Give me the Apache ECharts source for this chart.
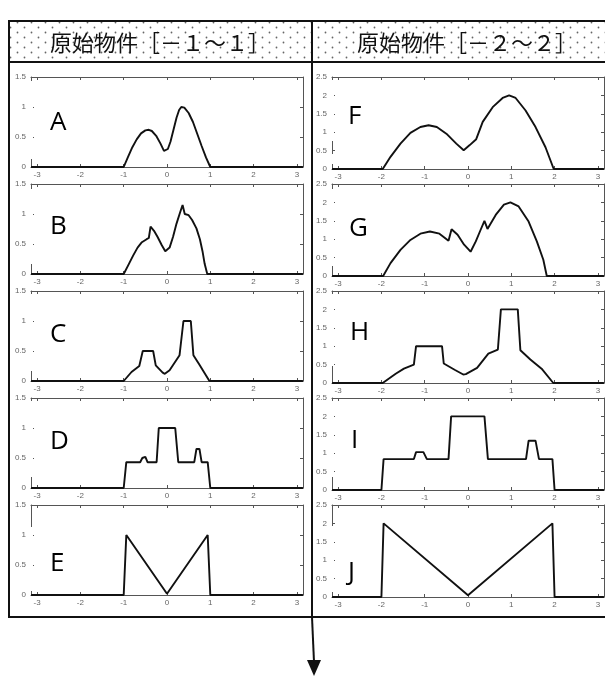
<!DOCTYPE html>
<html>
<head>
<meta charset="utf-8">
<script src="https://cdn.jsdelivr.net/npm/echarts@6/dist/echarts.min.js"></script>
<style>
  html, body { margin: 0; padding: 0; background: #fff; }
  #chart { width: 605px; height: 684px; }
</style>
</head>
<body>
<div id="chart"></div>
<script>
// Tick values shared by every panel
const xTicks = [-3, -2, -1, 0, 1, 2, 3];
const xMin = -Math.PI;
const xMax = Math.PI;
const yMaxNarrow = 1.5;   // objects on [-1, 1]
const yMaxWide = 2.5;     // objects on [-2, 2]

// Column headings
const headingNarrow = '原始物件［－１～１］';
const headingWide = '原始物件［－２～２］';

// Panel letters
const lettersNarrow = ['A', 'B', 'C', 'D', 'E'];
const lettersWide = ['F', 'G', 'H', 'I', 'J'];

// Original objects supported on [-1, 1]
const curveA = [[-3.14,0],[-1,0],[-0.9,0.17],[-0.8,0.33],[-0.7,0.46],[-0.6,0.56],[-0.5,0.61],[-0.42,0.62],[-0.35,0.6],[-0.25,0.52],[-0.15,0.39],[-0.07,0.27],[-0.03,0.26],[0.02,0.3],[0.08,0.42],[0.15,0.62],[0.22,0.82],[0.28,0.95],[0.33,1.0],[0.4,0.99],[0.5,0.9],[0.6,0.75],[0.7,0.55],[0.8,0.35],[0.9,0.16],[1,0],[3.14,0]];
const curveB = [[-3.14,0],[-1,0],[-0.9,0.14],[-0.78,0.31],[-0.68,0.44],[-0.58,0.53],[-0.47,0.58],[-0.42,0.6],[-0.38,0.79],[-0.3,0.72],[-0.22,0.62],[-0.12,0.48],[-0.04,0.38],[0,0.35],[0.06,0.44],[0.14,0.62],[0.22,0.84],[0.3,1.02],[0.36,1.15],[0.41,1.0],[0.5,0.98],[0.58,0.9],[0.68,0.76],[0.76,0.58],[0.82,0.38],[0.87,0.17],[0.93,0],[3.14,0]];
const curveC = [[-3.14,0],[-1,0],[-0.82,0.15],[-0.64,0.25],[-0.56,0.5],[-0.32,0.5],[-0.26,0.26],[-0.1,0.14],[-0.05,0.12],[0.06,0.18],[0.29,0.43],[0.38,1],[0.55,1],[0.61,0.43],[0.75,0.27],[0.98,0],[3.14,0]];
const curveD = [[-3.14,0],[-1,0],[-0.94,0.43],[-0.62,0.43],[-0.57,0.5],[-0.5,0.52],[-0.45,0.43],[-0.24,0.43],[-0.19,1],[0.19,1],[0.26,0.43],[0.63,0.43],[0.68,0.65],[0.75,0.65],[0.8,0.43],[0.94,0.43],[1,0],[3.14,0]];
const curveE = [[-3.14,0],[-1,0],[-0.94,1],[0,0.02],[0.94,1],[1,0],[3.14,0]];

// Original objects supported on [-2, 2]
const curveF = [[-3.14,0],[-1.97,0],[-1.79,0.33],[-1.56,0.69],[-1.33,0.98],[-1.1,1.14],[-0.91,1.19],[-0.72,1.14],[-0.5,0.96],[-0.27,0.69],[-0.1,0.51],[0.04,0.65],[0.19,0.81],[0.34,1.28],[0.57,1.68],[0.8,1.93],[0.95,2],[1.1,1.93],[1.33,1.59],[1.56,1.14],[1.79,0.59],[1.98,0],[3.14,0]];
const curveG = [[-3.14,0],[-1.96,0],[-1.79,0.35],[-1.56,0.71],[-1.33,0.98],[-1.1,1.15],[-0.88,1.21],[-0.66,1.15],[-0.45,0.96],[-0.38,1.27],[-0.24,1.12],[-0.09,0.85],[0.06,0.66],[0.18,0.94],[0.29,1.25],[0.38,1.5],[0.45,1.28],[0.64,1.66],[0.83,1.94],[0.98,2],[1.17,1.89],[1.4,1.48],[1.59,0.94],[1.74,0.44],[1.82,0],[3.14,0]];
const curveH = [[-3.14,0],[-1.97,0],[-1.67,0.25],[-1.48,0.39],[-1.25,0.5],[-1.2,1],[-0.6,1],[-0.56,0.53],[-0.31,0.36],[-0.11,0.23],[-0.05,0.24],[0.21,0.41],[0.47,0.8],[0.69,0.91],[0.76,2],[1.15,2],[1.21,0.89],[1.44,0.64],[1.7,0.39],[1.97,0],[3.14,0]];
const curveI = [[-3.14,0],[-2,0],[-1.95,0.84],[-1.25,0.84],[-1.2,1.03],[-1.03,1.03],[-0.95,0.84],[-0.45,0.84],[-0.39,2],[0.38,2],[0.46,0.84],[1.34,0.84],[1.4,1.34],[1.56,1.34],[1.64,0.84],[1.95,0.84],[2,0],[3.14,0]];
const curveJ = [[-3.14,0],[-2,0],[-1.95,2],[0,0.05],[1.95,2],[2,0],[3.14,0]];

const curvesNarrow = [curveA, curveB, curveC, curveD, curveE];
const curvesWide = [curveF, curveG, curveH, curveI, curveJ];

// ---- layout (pixels) ----
const rowTops = [77, 184, 291, 398, 505];
const rowHeight = 90;
const colLeft = [31, 332];
const plotWidth = 272;
const tableLeft = 9, tableTop = 21, headerBottom = 62, tableBottom = 617, colDivider = 312;

// white boxes behind the panel letters (they hide part of the left axis)
const letterBoxes = [
  [[81, 159]], [[189, 264]], [[294, 371]], [[401, 477]], [[527, 591]],
  [[80, 141], [154, 164]], [[189, 266]], [[294, 366]], [[401, 477]], [[526, 592]]
];
const letterPos = [
  [50, 123], [50, 227], [50, 335], [50, 442], [50, 564],
  [348, 117], [349, 229], [350, 333], [351, 441], [348, 573]
];

const axisGray = '#555';
const labelGray = '#666';

const grids = [], xAxes = [], yAxes = [], series = [];

function addPanel(col, row, data, yMax) {
  const gi = grids.length;
  grids.push({
    left: colLeft[col], top: rowTops[row], width: plotWidth,
    height: col === 0 ? rowHeight : rowHeight + 2,
    containLabel: false, outerBoundsMode: 'none'
  });
  const tickStyle = { inside: true, length: 3, lineStyle: { color: axisGray, width: 1 } };
  xAxes.push({
    gridIndex: gi, type: 'value', min: xMin, max: xMax, position: 'bottom',
    axisLine: { show: true, onZero: false, lineStyle: { color: axisGray, width: 1 } },
    axisTick: Object.assign({ customValues: xTicks }, tickStyle),
    axisLabel: { customValues: xTicks, fontSize: 8, color: labelGray, margin: 4, fontFamily: 'Liberation Sans' },
    splitLine: { show: false }
  });
  xAxes.push({
    gridIndex: gi, type: 'value', min: xMin, max: xMax, position: 'top',
    axisLine: { show: true, onZero: false, lineStyle: { color: axisGray, width: 1 } },
    axisTick: Object.assign({ customValues: xTicks }, tickStyle),
    axisLabel: { show: false },
    splitLine: { show: false }
  });
  yAxes.push({
    gridIndex: gi, type: 'value', min: 0, max: yMax, interval: 0.5, position: 'left',
    axisLine: { show: true, onZero: false, lineStyle: { color: axisGray, width: 1 } },
    axisTick: tickStyle,
    axisLabel: { fontSize: 8, color: labelGray, margin: 5, fontFamily: 'Liberation Sans' },
    splitLine: { show: false }
  });
  yAxes.push({
    gridIndex: gi, type: 'value', min: 0, max: yMax, interval: 0.5, position: 'right',
    axisLine: { show: true, onZero: false, lineStyle: { color: axisGray, width: 1 } },
    axisTick: tickStyle,
    axisLabel: { show: false },
    splitLine: { show: false }
  });
  series.push({
    type: 'line', xAxisIndex: 2 * gi, yAxisIndex: 2 * gi,
    data: data, showSymbol: false, symbol: 'none', smooth: false,
    lineStyle: { color: '#111', width: 1.9 }, silent: true, animation: false
  });
}

curvesNarrow.forEach((c, i) => addPanel(0, i, c, yMaxNarrow));
curvesWide.forEach((c, i) => addPanel(1, i, c, yMaxWide));

// dotted fill for the heading row
function dotPattern() {
  const cv = document.createElement('canvas');
  cv.width = 14; cv.height = 10;
  const ctx = cv.getContext('2d');
  ctx.fillStyle = '#666';
  ctx.beginPath(); ctx.arc(3.5, 2.5, 0.9, 0, Math.PI * 2); ctx.fill();
  ctx.beginPath(); ctx.arc(10.5, 7.5, 0.9, 0, Math.PI * 2); ctx.fill();
  return { image: cv, repeat: 'repeat' };
}
const pattern = dotPattern();

const graphics = [];
// heading backgrounds
graphics.push({ type: 'rect', z: 20, shape: { x: tableLeft, y: tableTop, width: colDivider - tableLeft, height: headerBottom - tableTop }, style: { fill: pattern } });
graphics.push({ type: 'rect', z: 20, shape: { x: colDivider, y: tableTop, width: 620 - colDivider, height: headerBottom - tableTop }, style: { fill: pattern } });
// heading texts
graphics.push({ type: 'text', z: 22, x: 160, y: 43, style: { text: headingNarrow, font: '22px "Noto Sans CJK TC"', fill: '#111', align: 'center', verticalAlign: 'middle' } });
graphics.push({ type: 'text', z: 22, x: 467, y: 43, style: { text: headingWide, font: '22px "Noto Sans CJK TC"', fill: '#111', align: 'center', verticalAlign: 'middle' } });
// table frame
const frame = { stroke: '#111', lineWidth: 2 };
graphics.push({ type: 'rect', z: 25, shape: { x: tableLeft, y: tableTop, width: 640, height: tableBottom - tableTop }, style: Object.assign({ fill: 'none' }, frame) });
graphics.push({ type: 'line', z: 25, shape: { x1: tableLeft, y1: headerBottom, x2: 620, y2: headerBottom }, style: frame });
graphics.push({ type: 'line', z: 25, shape: { x1: colDivider, y1: tableTop, x2: colDivider, y2: tableBottom }, style: frame });
// arrow below the table
graphics.push({ type: 'line', z: 25, shape: { x1: 312, y1: tableBottom, x2: 314, y2: 662 }, style: frame });
graphics.push({ type: 'polygon', z: 25, shape: { points: [[307, 660], [321, 660], [314, 676]] }, style: { fill: '#111' } });

// panel letters
const allLetters = lettersNarrow.concat(lettersWide);
allLetters.forEach((L, i) => {
  const colX = i < 5 ? colLeft[0] : colLeft[1];
  letterBoxes[i].forEach(b => {
    graphics.push({ type: 'rect', z: 15, shape: { x: colX - 2, y: b[0], width: 4, height: b[1] - b[0] }, style: { fill: '#fff' } });
  });
  graphics.push({ type: 'text', z: 16, x: letterPos[i][0], y: letterPos[i][1], style: { text: L, font: '26px "Open Sans"', fill: '#000', align: 'left', verticalAlign: 'middle' } });
});

const chart = echarts.init(document.getElementById('chart'), null, { renderer: 'canvas' });
chart.setOption({
  animation: false,
  backgroundColor: '#fff',
  grid: grids,
  xAxis: xAxes,
  yAxis: yAxes,
  series: series,
  graphic: { elements: graphics }
});
</script>
</body>
</html>
